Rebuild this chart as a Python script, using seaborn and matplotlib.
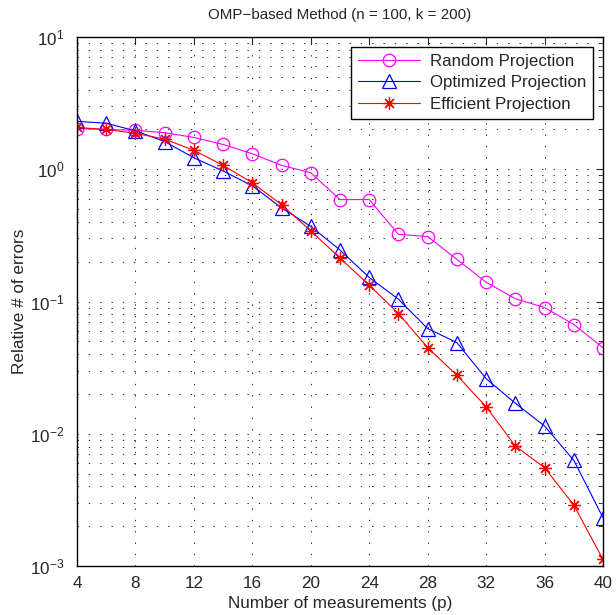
import numpy as np
import pandas as pd
import seaborn as sns
from matplotlib import pyplot as plt
from matplotlib.ticker import LogLocator, NullFormatter, MultipleLocator

##### Data #####
p = [4, 6, 8, 10, 12, 14, 16, 18, 20, 22, 24, 26, 28, 30, 32, 34, 36, 38, 40]
random_proj = [2.03, 2.0, 1.97, 1.89, 1.74, 1.54, 1.31, 1.07, 0.94, 0.59, 0.59,
               0.322, 0.31, 0.208, 0.14, 0.105, 0.09, 0.067, 0.0448]
optimized_proj = [2.3, 2.23, 1.95, 1.62, 1.22, 0.97, 0.75, 0.51, 0.37, 0.245, 0.152,
                  0.104, 0.0624, 0.0489, 0.0261, 0.017, 0.01145, 0.0063, 0.00232]
efficient_proj = [2.07, 2.0, 1.87, 1.69, 1.39, 1.07, 0.79, 0.54, 0.342, 0.213, 0.133,
                  0.081, 0.0448, 0.0277, 0.016, 0.00807, 0.00554, 0.00289, 0.00112]
series_names = ['Random Projection', 'Optimized Projection', 'Efficient Projection']

df = pd.DataFrame({
    'p': p * 3,
    'err': random_proj + optimized_proj + efficient_proj,
    'method': sum([[n] * len(p) for n in series_names], [])
})

##### Plot #####
sns.set_style('white')
plt.rcParams['font.family'] = ['Liberation Sans', 'DejaVu Sans']
plt.rcParams['mathtext.fontset'] = 'custom'
plt.rcParams['mathtext.rm'] = 'Liberation Sans'

fig = plt.figure(figsize=(6.16, 6.15), dpi=100)
ax = fig.add_axes([77 / 616, 1 - 566 / 615, 526 / 616, 529 / 615])

# matlab-ish markers: open circle, open triangle, 8-arm asterisk
styles = {
    'Random Projection': dict(color='#ff00ff', marker='o', ms=9),
    'Optimized Projection': dict(color='#0000ff', marker='^', ms=10),
    'Efficient Projection': dict(color='#ff0000', marker=(8, 2, 0), ms=9),
}
for name in series_names:
    st = styles[name]
    sns.lineplot(data=df[df['method'] == name], x='p', y='err', ax=ax,
                 color=st['color'], marker=st['marker'], markersize=st['ms'],
                 markerfacecolor='none', markeredgecolor=st['color'],
                 markeredgewidth=0.9, linewidth=0.8, label=name)

ax.set_yscale('log')
ax.set_xlim(4, 40)
ax.set_ylim(1e-3, 1e1)
ax.xaxis.set_major_locator(MultipleLocator(4))
ax.yaxis.set_major_locator(LogLocator(base=10, numticks=10))
ax.yaxis.set_minor_locator(LogLocator(base=10, subs=np.arange(2, 10), numticks=10))
ax.yaxis.set_minor_formatter(NullFormatter())

ax.grid(True, which='major', linestyle=(0, (1.6, 12)), color='black', linewidth=0.6)
ax.grid(True, which='minor', axis='y', linestyle=(0, (1.6, 12)), color='black', linewidth=0.6)
ax.set_axisbelow(True)
ax.tick_params(which='both', direction='in', top=True, right=True, labelsize=12.3)
ax.tick_params(axis='x', which='major', pad=7)
ax.tick_params(axis='y', which='major', pad=9)
ax.tick_params(which='major', length=5, width=0.8)
ax.tick_params(which='minor', length=3, width=0.6)
for s in ax.spines.values():
    s.set_color('black')
    s.set_linewidth(1.0)

ax.set_title('OMP\u2212based Method (n = 100, k = 200)', fontsize=10.9, pad=13)
ax.set_xlabel('Number of measurements (p)', fontsize=12.3, labelpad=4)
ax.set_ylabel('Relative # of errors', fontsize=12.3, labelpad=2)

leg = ax.legend(loc='upper right', fontsize=12.2, frameon=True, fancybox=False,
                edgecolor='black', framealpha=1, borderaxespad=0.6,
                handlelength=3.7, handletextpad=0.55, labelspacing=0.38,
                borderpad=0.4)
leg.get_frame().set_linewidth(1.0)

fig.savefig('out.png', dpi=100)
